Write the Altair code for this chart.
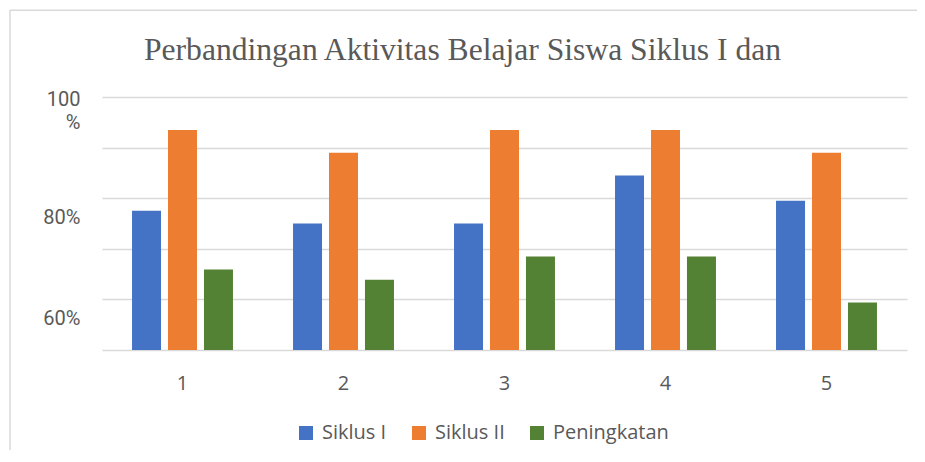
import altair as alt
import pandas as pd

categories = ["1", "2", "3", "4", "5"]
series = ["Siklus I", "Siklus II", "Peningkatan"]
siklus_1 = [77.5, 75.0, 75.0, 84.5, 79.5]
siklus_2 = [93.5, 89.0, 93.5, 93.5, 89.0]
peningkatan = [65.9, 63.9, 68.5, 68.5, 59.4]
colors = ["#4472C4", "#ED7D31", "#548235"]
y_ticks = [50, 60, 70, 80, 90, 100]
title_text = "Perbandingan Aktivitas Belajar Siswa Siklus I dan"

rows = []
for name, vals in zip(series, [siklus_1, siklus_2, peningkatan]):
    for c, v in zip(categories, vals):
        rows.append({"cat": c, "series": name, "value": v})
df = pd.DataFrame(rows)

label_color = "#595959"
grid_color = "#D9D9D9"
font = "Open Sans"

bars = alt.Chart(df).mark_bar(clip=True).encode(
    x=alt.X("cat:N", sort=categories, title=None,
            scale=alt.Scale(paddingInner=0.373, paddingOuter=0.1865),
            axis=alt.Axis(labelAngle=0, ticks=False, domain=False, grid=False,
                          labelFont=font, labelFontSize=20, labelColor=label_color,
                          labelPadding=23, labelBaseline="top")),
    xOffset=alt.XOffset("series:N", sort=series,
                        scale=alt.Scale(paddingInner=0.194, paddingOuter=0)),
    y=alt.Y("value:Q", title=None,
            scale=alt.Scale(domain=[50, 100], nice=False, zero=False),
            axis=alt.Axis(values=y_ticks, ticks=False, domain=False,
                          gridColor=grid_color, gridWidth=1.5,
                          labelFont="Roboto", labelFontSize=20, labelColor=label_color,
                          labelPadding=22, labelLineHeight=23.5,
                          labelExpr="datum.value == 100 ? ['100', '%'] : (datum.value == 80 || datum.value == 60 ? datum.value + '%' : '')",
                          labelOffset={"condition": {"test": "datum.value == 100", "value": 2}, "value": 19})),
    color=alt.Color("series:N", sort=series,
                    scale=alt.Scale(domain=series, range=colors),
                    legend=alt.Legend(title=None, orient="none", direction="horizontal",
                                      legendX=194, legendY=326,
                                      symbolType="square", symbolSize=196,
                                      symbolStrokeWidth=0, labelOffset=6,
                                      columnPadding=22,
                                      labelFont=font, labelFontSize=20,
                                      labelColor=label_color)),
)

one = pd.DataFrame({"t": [title_text]})

title = alt.Chart(one).mark_text(
    font="Liberation Serif", fontSize=31.6, color=label_color,
    align="center", baseline="alphabetic"
).encode(text="t:N", x=alt.value(360.5), y=alt.value(-37))

border_top = alt.Chart(one).mark_rule(color=grid_color, strokeWidth=1.5).encode(
    x=alt.value(-92), x2=alt.value(823), y=alt.value(-86.75))
border_left = alt.Chart(one).mark_rule(color=grid_color, strokeWidth=1.5).encode(
    x=alt.value(-92), y=alt.value(-87), y2=alt.value(365))

chart = alt.layer(bars, title, border_top, border_left).properties(
    width=805, height=253,
    autosize=alt.AutoSizeParams(type="none"),
    padding={"left": 94, "top": 89, "right": 10, "bottom": 100},
    background="white",
).configure_view(strokeWidth=0)

chart.save("out.html", embed_options={"renderer": "svg", "actions": False})
